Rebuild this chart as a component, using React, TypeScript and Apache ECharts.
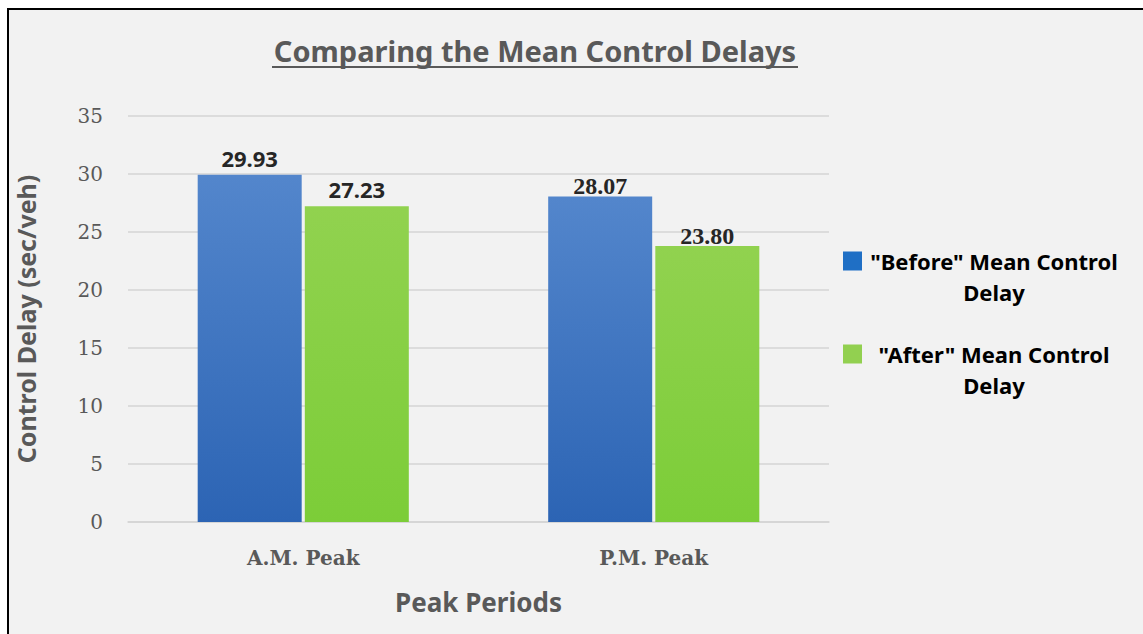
import React, { useEffect, useRef } from "react";
import * as echarts from "echarts";

const categories = ["A.M. Peak", "P.M. Peak"];
const seriesNames = ['"Before" Mean Control Delay', '"After" Mean Control Delay'];
const beforeValues = [29.93, 28.07];
const afterValues = [27.23, 23.8];
const yMin = 0;
const yMax = 35;
const yInterval = 5;
const titleText = "Comparing the Mean Control Delays";
const xAxisName = "Peak Periods";
const yAxisName = "Control Delay (sec/veh)";

const SANS = "'Noto Sans', 'Open Sans', sans-serif";
const SERIF_TICK = "'DejaVu Serif', serif";
const SERIF_LABEL = "'Liberation Serif', 'Times New Roman', serif";

const labelStyles = [
  { fontFamily: SANS, fontSize: 22, fontWeight: "bold", color: "#262626", distance: 6 },
  { fontFamily: SERIF_LABEL, fontSize: 24, fontWeight: "bold", color: "#262626", distance: -2 },
];

export default function App() {
  const ref = useRef<HTMLDivElement>(null);
  useEffect(() => {
    if (!ref.current) return;
    const chart = echarts.init(ref.current, null, { renderer: "svg" });
    const mkData = (vals: number[]) =>
      vals.map((v, i) => ({ value: v, label: { ...labelStyles[i] } }));
    const blueGrad = new echarts.graphic.LinearGradient(0, 0, 0, 1, [
      { offset: 0, color: "#5386cc" },
      { offset: 1, color: "#2c64b4" },
    ]);
    const greenGrad = new echarts.graphic.LinearGradient(0, 0, 0, 1, [
      { offset: 0, color: "#91d24f" },
      { offset: 1, color: "#7ccd38" },
    ]);
    const iconPath = "path://M0,0H10V10H0Z M0,26.3L0.001,26.3";
    chart.setOption({
      animation: false,
      backgroundColor: "#f2f2f2",
      graphic: [
        {
          type: "text",
          x: 525,
          y: 40,
          style: {
            text: titleText,
            fontFamily: SANS,
            fontSize: 29,
            fontWeight: "bold",
            fill: "#595959",
            align: "center",
            verticalAlign: "middle",
          },
        },
        {
          type: "line",
          shape: { x1: 262, y1: 57, x2: 788, y2: 57 },
          style: { stroke: "#595959", lineWidth: 2 },
        },
      ],
      grid: { left: 118, right: 314, top: 106, bottom: 112, outerBoundsMode: "none" },
      legend: {
        orient: "vertical",
        left: 833,
        top: 240,
        padding: 0,
        itemGap: 40,
        itemWidth: 19,
        itemHeight: 50,
        selectedMode: false,
        data: [
          { name: seriesNames[0], icon: iconPath, itemStyle: { color: "#1f6fc5" } },
          { name: seriesNames[1], icon: iconPath, itemStyle: { color: "#92d050" } },
        ],
        formatter: (name: string) => {
          const idx = name.lastIndexOf(" ");
          return "{a|" + name.slice(0, idx) + "}\n{a|" + name.slice(idx + 1) + "}";
        },
        textStyle: {
          rich: {
            a: {
              width: 254,
              align: "center",
              fontFamily: SANS,
              fontSize: 22,
              fontWeight: "bold",
              color: "#000000",
              lineHeight: 31,
            },
          },
        },
      },
      xAxis: {
        type: "category",
        data: categories,
        name: xAxisName,
        nameLocation: "middle",
        nameGap: 67,
        nameTextStyle: { fontFamily: SANS, fontSize: 26, fontWeight: "bold", color: "#595959" },
        axisLine: { lineStyle: { color: "#d4d4d4", width: 1.5 } },
        axisTick: { show: false },
        axisLabel: {
          margin: 26,
          fontFamily: SERIF_TICK,
          fontSize: 20,
          fontWeight: "bold",
          color: "#595959",
        },
      },
      yAxis: {
        type: "value",
        min: yMin,
        max: yMax,
        interval: yInterval,
        name: yAxisName,
        nameLocation: "middle",
        nameGap: 90,
        nameTextStyle: { fontFamily: SANS, fontSize: 25, fontWeight: "bold", color: "#595959" },
        axisLine: { show: false },
        axisTick: { show: false },
        axisLabel: { margin: 25, fontFamily: SERIF_TICK, fontSize: 20, color: "#595959" },
        splitLine: { lineStyle: { color: "#d4d4d4", width: 1.5 } },
      },
      series: [
        {
          name: seriesNames[0],
          type: "bar",
          data: mkData(beforeValues),
          barWidth: 104,
          barGap: "3%",
          itemStyle: { color: blueGrad },
          label: { show: true, position: "top", formatter: (p: any) => Number(p.value).toFixed(2) },
        },
        {
          name: seriesNames[1],
          type: "bar",
          data: mkData(afterValues),
          barWidth: 104,
          barGap: "3%",
          itemStyle: { color: greenGrad },
          label: { show: true, position: "top", formatter: (p: any) => Number(p.value).toFixed(2) },
        },
      ],
    });
    return () => chart.dispose();
  }, []);
  return (
    <div
      style={{
        position: "fixed",
        left: 7,
        top: 8,
        width: 1134,
        height: 624,
        borderTop: "2px solid #000",
        borderLeft: "2px solid #000",
        background: "#f2f2f2",
      }}
    >
      <div ref={ref} style={{ width: 1133, height: 624, marginLeft: 1 }} />
    </div>
  );
}
